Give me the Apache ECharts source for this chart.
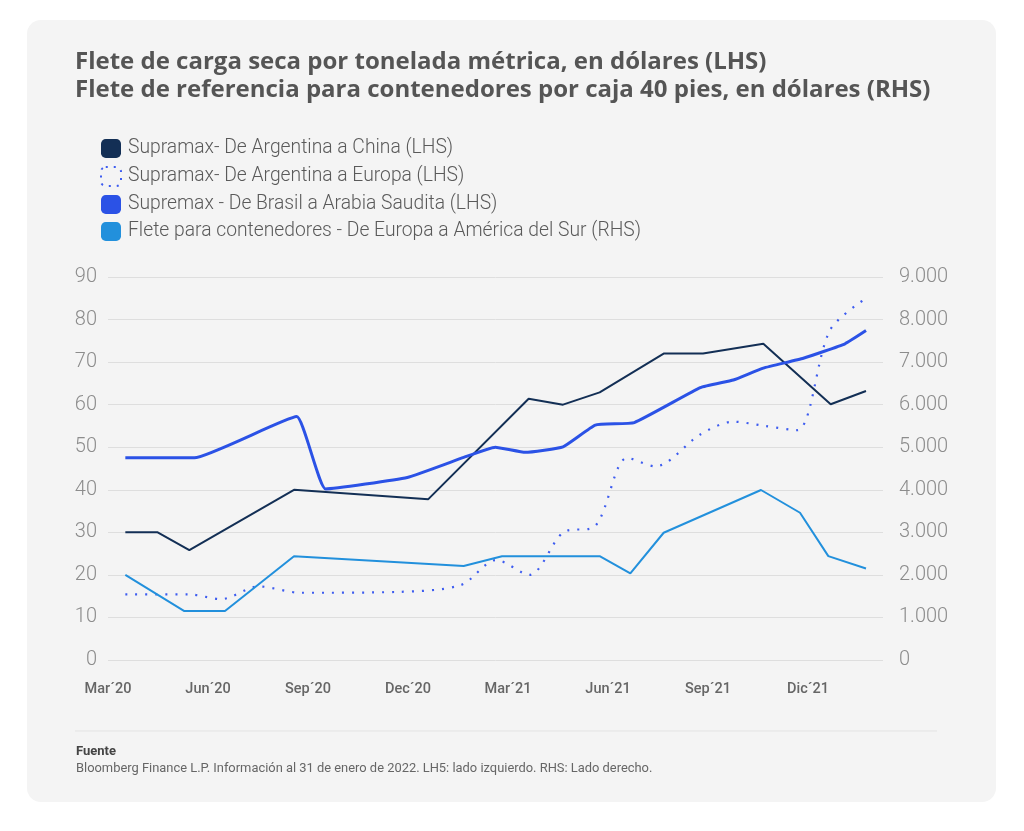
<!DOCTYPE html>
<html lang="es">
<head>
  <meta charset="UTF-8" />
  <title>Fletes</title>
  <script src="https://cdn.jsdelivr.net/npm/echarts@6.0.0/dist/echarts.min.js"></script>
  <style>
    body { margin: 0; background: #ffffff; font-family: 'Roboto', sans-serif; }
    #card {
      position: absolute; left: 27px; top: 20px; width: 969px; height: 782px;
      background: #f4f4f4; border-radius: 14px;
    }
    #chart { position: absolute; left: 0; top: 0; width: 1024px; height: 831px; }
  </style>
</head>
<body>
  <div id="card"></div>
  <div id="chart"></div>
  <script>
    // x positions are in months, 0 = Mar'20 label
    const xLabels = ['Mar´20', 'Jun´20', 'Sep´20', 'Dec´20', 'Mar´21', 'Jun´21', 'Sep´21', 'Dic´21'];

    const names = [
      'Supramax- De Argentina a China (LHS)',
      'Supramax- De Argentina a Europa (LHS)',
      'Supremax - De Brasil a Arabia Saudita (LHS)',
      'Flete para contenedores - De Europa a América del Sur (RHS)'
    ];

    const chinaX = [0.52, 1.49, 2.44, 5.58, 9.61, 12.62, 13.65, 14.75, 16.67, 17.85, 19.66, 21.68, 22.74];
    const chinaY = [30, 30, 25.8, 40, 37.8, 61.4, 60, 62.9, 72, 72, 74.3, 60.1, 63.2];

    const europaX = [0.52, 2.44, 3.39, 4.52, 5.78, 8.68, 10.58, 11.65, 12.64, 13.66, 14.62, 15.58, 16.42, 17.77, 18.75, 19.71, 20.67, 21.66, 22.74];
    const europaY = [15.4, 15.4, 14.3, 17.3, 15.8, 16, 17.6, 23.5, 20, 30, 31.5, 47.5, 45.5, 53, 56, 55, 54, 77.5, 85];

    const brasilX = [0.52, 2.59, 5.66, 6.53, 8.98, 10.67, 11.62, 12.52, 13.65, 14.62, 15.79, 17.77, 18.76, 19.66, 20.86, 22.11, 22.74];
    const brasilY = [47.5, 47.5, 57.2, 40.2, 42.9, 47.6, 50, 48.8, 50.1, 55.2, 55.8, 64, 65.8, 68.6, 70.9, 74.3, 77.4];

    const contX = [0.52, 2.29, 3.51, 5.58, 10.67, 11.82, 14.75, 15.67, 16.67, 19.59, 20.76, 21.61, 22.74];
    const contY = [2000, 1150, 1150, 2440, 2210, 2440, 2440, 2035, 2990, 3995, 3460, 2440, 2150];

    const pairs = (xs, ys) => xs.map((x, i) => [x, ys[i]]);

    const colors = ['#132f55', '#3d5cf0', '#2b52e6', '#2290dc'];

    const chart = echarts.init(document.getElementById('chart'));

    const option = {
      backgroundColor: 'transparent',
      animation: false,
      textStyle: { fontFamily: 'Roboto' },
      title: {
        text: 'Flete de carga seca por tonelada métrica, en dólares (LHS)\nFlete de referencia para contenedores por caja 40 pies, en dólares (RHS)',
        left: 70,
        top: 43,
        textStyle: { fontSize: 24, lineHeight: 28, fontWeight: 'bold', color: '#555555', fontFamily: 'Open Sans' }
      },
      legend: {
        orient: 'vertical',
        left: 95,
        top: 134,
        icon: 'roundRect',
        itemWidth: 20,
        itemHeight: 19,
        itemGap: 8,
        textStyle: { fontSize: 19.3, color: '#5a5a5a', fontWeight: 300, fontFamily: 'Roboto', padding: [0, 0, 0, 2] },
        data: [
          { name: names[0] },
          { name: names[1], itemStyle: { color: 'rgba(0,0,0,0)', borderColor: colors[1], borderWidth: 2, borderType: [2, 6] } },
          { name: names[2] },
          { name: names[3] }
        ]
      },
      grid: { left: 108, right: 141, top: 277, bottom: 171 },
      xAxis: {
        type: 'value',
        min: 0,
        max: 23.25,
        interval: 3,
        axisLine: { show: false },
        axisTick: { show: false },
        splitLine: { show: false },
        axisLabel: {
          showMaxLabel: false,
          margin: 22,
          fontSize: 14.5,
          fontWeight: 500,
          color: '#666666',
          formatter: v => xLabels[Math.round(v / 3)] || ''
        }
      },
      yAxis: [
        {
          type: 'value',
          min: 0, max: 90, interval: 10,
          axisLine: { show: false },
          axisTick: { show: false },
          splitLine: { lineStyle: { color: '#dedede', width: 1 } },
          axisLabel: { fontSize: 20, color: '#8c8c8c', fontWeight: 300, margin: 11 }
        },
        {
          type: 'value',
          min: 0, max: 9000, interval: 1000,
          axisLine: { show: false },
          axisTick: { show: false },
          splitLine: { show: false },
          axisLabel: {
            fontSize: 20, color: '#8c8c8c', fontWeight: 300, margin: 16,
            formatter: v => v === 0 ? '0' : (v / 1000) + '.000'
          }
        }
      ],
      series: [
        {
          name: names[0], type: 'line', yAxisIndex: 0, showSymbol: false,
          data: pairs(chinaX, chinaY),
          itemStyle: { color: colors[0] },
          lineStyle: { color: colors[0], width: 2 }
        },
        {
          name: names[1], type: 'line', yAxisIndex: 0, showSymbol: false, smooth: 0.3,
          data: pairs(europaX, europaY),
          itemStyle: { color: colors[1] },
          lineStyle: { color: colors[1], width: 2.2, type: [2, 8] }
        },
        {
          name: names[2], type: 'line', yAxisIndex: 0, showSymbol: false, smooth: 0.12,
          data: pairs(brasilX, brasilY),
          itemStyle: { color: colors[2] },
          lineStyle: { color: colors[2], width: 3 }
        },
        {
          name: names[3], type: 'line', yAxisIndex: 1, showSymbol: false,
          data: pairs(contX, contY),
          itemStyle: { color: colors[3] },
          lineStyle: { color: colors[3], width: 2 }
        }
      ],
      graphic: [
        {
          type: 'line',
          shape: { x1: 75, y1: 731, x2: 937, y2: 731 },
          style: { stroke: '#e3e3e3', lineWidth: 1 }
        },
        {
          type: 'text', left: 76, top: 745,
          style: { text: 'Fuente', fontSize: 13, fontWeight: 'bold', fill: '#444444', fontFamily: 'Roboto' }
        },
        {
          type: 'text', left: 76, top: 762,
          style: {
            text: 'Bloomberg Finance L.P. Información al 31 de enero de 2022. LH5: lado izquierdo. RHS: Lado derecho.',
            fontSize: 12.9, fill: '#666666', fontFamily: 'Roboto'
          }
        }
      ]
    };

    chart.setOption(option);
    window.addEventListener('resize', () => chart.resize());
  </script>
</body>
</html>
